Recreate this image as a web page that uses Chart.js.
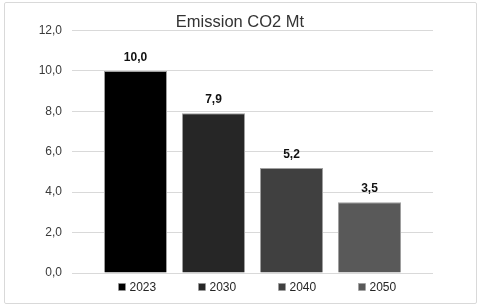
<!DOCTYPE html>
<html>
<head>
<meta charset="utf-8">
<script src="https://cdn.jsdelivr.net/npm/chart.js@4.4.1/dist/chart.umd.min.js"></script>
<style>
  html, body { margin: 0; padding: 0; background: #ffffff; }
  #wrap { position: relative; width: 480px; height: 307px; }
  #c { position: absolute; left: 0; top: 0; }
  #frame { position: absolute; left: 4px; top: 2px; width: 471px; height: 300px;
           border: 1px solid #d9d9d9; border-radius: 2px; pointer-events: none; }
</style>
</head>
<body>
<div id="wrap">
  <canvas id="c" width="480" height="307"></canvas>
  <div id="frame"></div>
</div>
<script>
// ---- data ----
const categories = ['2023', '2030', '2040', '2050'];
const emissions = [10.0, 7.9, 5.2, 3.5];
const barColors = ['#000000', '#262626', '#404040', '#595959'];
const yTicks = [0, 2, 4, 6, 8, 10, 12];
const chartTitle = 'Emission CO2 Mt';

const fmt = v => v.toFixed(1).replace('.', ',');
const FONT = "'Liberation Sans', Arial, sans-serif";

const points = categories.map((c, i) => ({ x: i, y: emissions[i] }));

const valueLabels = {
  id: 'valueLabels',
  afterDatasetsDraw(chart) {
    const ctx = chart.ctx;
    const meta = chart.getDatasetMeta(0);
    ctx.save();
    ctx.font = "bold 12px " + FONT;
    ctx.fillStyle = '#111111';
    ctx.textAlign = 'center';
    ctx.textBaseline = 'middle';
    meta.data.forEach((bar, i) => {
      ctx.fillText(fmt(emissions[i]), bar.x, bar.y - 13.5);
    });
    ctx.restore();
  }
};

const bottomLegend = {
  id: 'bottomLegend',
  afterDraw(chart) {
    const ctx = chart.ctx;
    const area = chart.chartArea;
    const mid = (area.left + area.right) / 2 + 5;
    const spacing = 80;
    const cy = area.bottom + 14;
    ctx.save();
    ctx.font = "12px " + FONT;
    ctx.textBaseline = 'middle';
    ctx.textAlign = 'left';
    categories.forEach((c, i) => {
      const cx = mid + (i - (categories.length - 1) / 2) * spacing;
      const x0 = cx - 19;
      ctx.fillStyle = barColors[i];
      ctx.fillRect(x0, cy - 3.5, 7, 7);
      ctx.strokeStyle = '#9a9a9a';
      ctx.lineWidth = 0.5;
      ctx.strokeRect(x0, cy - 3.5, 7, 7);
      ctx.fillStyle = '#262626';
      ctx.fillText(c, x0 + 11, cy + 0.5);
    });
    ctx.restore();
  }
};

new Chart(document.getElementById('c'), {
  type: 'bar',
  data: {
    datasets: [{
      label: chartTitle,
      data: points,
      backgroundColor: barColors,
      borderColor: '#a0a0a0',
      borderWidth: 1,
      categoryPercentage: 1,
      barPercentage: 0.808
    }]
  },
  options: {
    responsive: false,
    animation: false,
    devicePixelRatio: 1,
    layout: { padding: { left: 0, right: 0, top: 14, bottom: 34 } },
    plugins: {
      legend: { display: false },
      tooltip: { enabled: false },
      title: {
        display: true,
        text: chartTitle,
        color: '#333333',
        font: { family: FONT, size: 16.5, weight: 'normal', lineHeight: 1 },
        padding: { top: 0, bottom: 0 }
      }
    },
    scales: {
      x: {
        type: 'linear',
        display: false,
        min: -0.814,
        max: 3.814,
        offset: false,
        afterBuildTicks(scale) { scale.ticks = categories.map((c, i) => ({ value: i })); }
      },
      y: {
        min: 0,
        max: 12,
        afterBuildTicks(scale) { scale.ticks = yTicks.map(v => ({ value: v })); },
        afterFit(scale) { scale.width = 72; },
        border: { display: false },
        grid: { color: '#d9d9d9', lineWidth: 1, drawTicks: false },
        ticks: {
          padding: 10,
          color: '#3a3a3a',
          font: { family: FONT, size: 12 },
          callback: v => fmt(v)
        }
      },
      yRight: {
        type: 'linear',
        position: 'right',
        min: 0,
        max: 12,
        afterFit(scale) { scale.width = 47; },
        border: { display: false },
        grid: { display: false, drawTicks: false },
        ticks: { display: false }
      }
    }
  },
  plugins: [valueLabels, bottomLegend]
});
</script>
</body>
</html>
